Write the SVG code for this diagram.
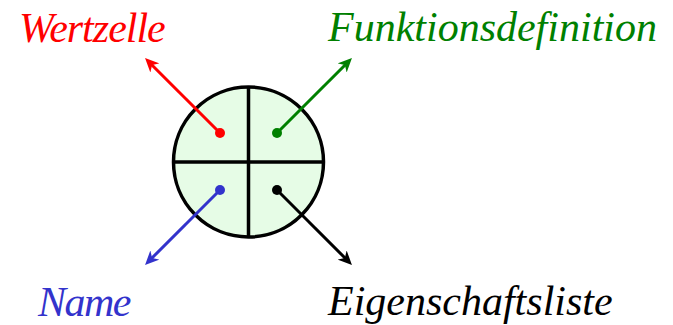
<svg xmlns="http://www.w3.org/2000/svg" width="673" height="325" viewBox="0 0 673 325">
  <style>
    .conn { stroke-width: 3; fill: none; }
    .part { stroke: #000; stroke-width: 3.5; }
    .lbl { font-family: 'Liberation Serif', serif; font-style: italic; font-size: 42px; }
  </style>
  <defs>
    <marker id="ar" markerUnits="userSpaceOnUse" markerWidth="16" markerHeight="14" viewBox="0 -7 16 14" refX="6" refY="0" orient="auto"><path d="M14,0 L0,-6.5 L4,0 L0,6.5 Z" fill="#ff0000"/></marker>
    <marker id="ag" markerUnits="userSpaceOnUse" markerWidth="16" markerHeight="14" viewBox="0 -7 16 14" refX="6" refY="0" orient="auto"><path d="M14,0 L0,-6.5 L4,0 L0,6.5 Z" fill="#008000"/></marker>
    <marker id="ab" markerUnits="userSpaceOnUse" markerWidth="16" markerHeight="14" viewBox="0 -7 16 14" refX="6" refY="0" orient="auto"><path d="M14,0 L0,-6.5 L4,0 L0,6.5 Z" fill="#3333cc"/></marker>
    <marker id="ak" markerUnits="userSpaceOnUse" markerWidth="16" markerHeight="14" viewBox="0 -7 16 14" refX="6" refY="0" orient="auto"><path d="M14,0 L0,-6.5 L4,0 L0,6.5 Z" fill="#000000"/></marker>
  </defs>
  <g id="cell">
    <circle cx="248.5" cy="162" r="75" fill="#e6fce6" stroke="#000" stroke-width="3.5"/>
    <line class="part" x1="248.5" y1="87" x2="248.5" y2="237"/>
    <line class="part" x1="173.5" y1="162" x2="323.5" y2="162"/>
  </g>
  <g id="connectors">
    <line class="conn" stroke="#ff0000" x1="220" y1="133" x2="150.7" y2="63.7" marker-end="url(#ar)"/>
    <line class="conn" stroke="#008000" x1="277" y1="133" x2="346.3" y2="63.7" marker-end="url(#ag)"/>
    <line class="conn" stroke="#3333cc" x1="220" y1="190" x2="150.7" y2="259.3" marker-end="url(#ab)"/>
    <line class="conn" stroke="#000000" x1="277" y1="190" x2="346.3" y2="259.3" marker-end="url(#ak)"/>
    <circle cx="220" cy="133" r="5" fill="#ff0000"/>
    <circle cx="277" cy="133" r="5" fill="#008000"/>
    <circle cx="220" cy="190" r="5" fill="#3333cc"/>
    <circle cx="277" cy="190" r="5" fill="#000000"/>
  </g>
  <g id="wertzelle"><text class="lbl" x="19" y="41.5" fill="#ff0000" letter-spacing="-1">Wertzelle</text></g>
  <g id="funktionsdefinition"><text class="lbl" x="328" y="41" fill="#008000">Funktionsdefinition</text></g>
  <g id="name"><text class="lbl" x="38" y="315.5" fill="#3333cc" letter-spacing="-1.5">Name</text></g>
  <g id="eigenschaftsliste"><text class="lbl" x="328" y="315" fill="#000000">Eigenschaftsliste</text></g>
</svg>
